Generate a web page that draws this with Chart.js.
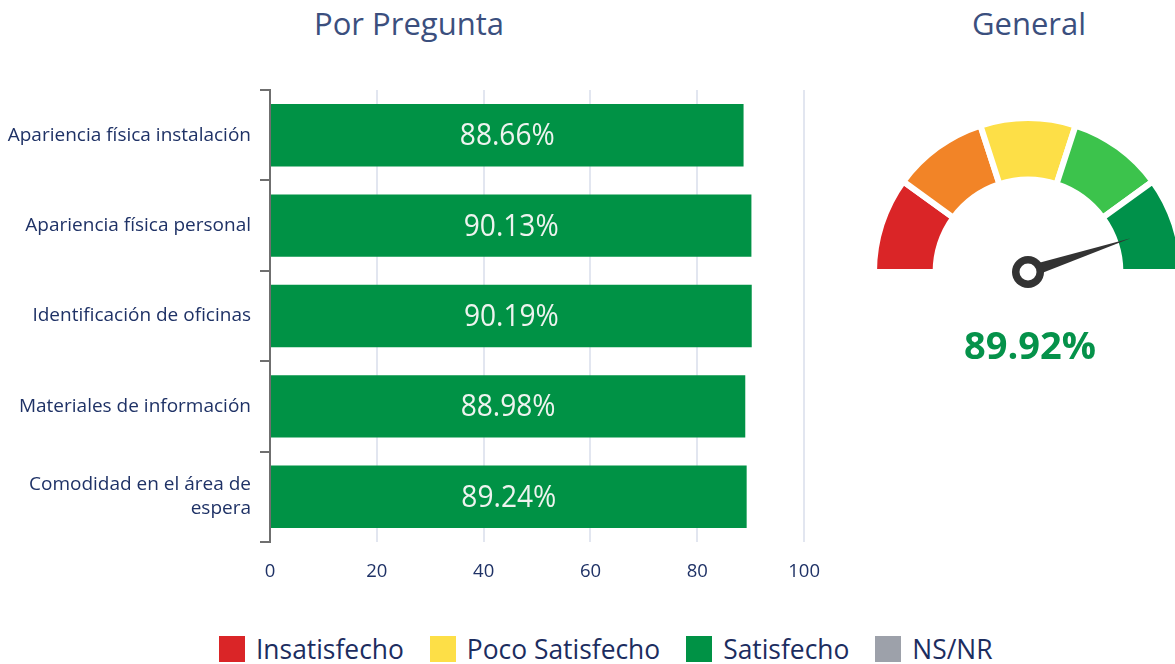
<!DOCTYPE html>
<html>
<head>
<meta charset="utf-8">
<script src="https://cdn.jsdelivr.net/npm/chart.js@4/dist/chart.umd.min.js"></script>
<style>
html,body{margin:0;padding:0;background:#fff;}
body{width:1175px;height:664px;overflow:hidden;position:relative;font-family:"Open Sans",sans-serif;}
.titulo{position:absolute;top:2px;font-size:31px;color:#3b4f7e;text-align:center;line-height:42px;}
#barWrap{position:absolute;left:0;top:0;width:839px;height:600px;}
#gaugeWrap{position:absolute;left:858px;top:0;width:340px;height:400px;}
#leyenda{position:absolute;left:219px;top:636px;display:flex;align-items:center;font-size:26.4px;color:#1c2d5f;line-height:26px;white-space:nowrap;}
#leyenda .item{display:flex;align-items:center;margin-right:26px;}
#leyenda .caja{width:26px;height:26px;margin-right:11px;}
</style>
</head>
<body>
<div class="titulo" style="left:259px;width:300px;">Por Pregunta</div>
<div class="titulo" style="left:879px;width:300px;">General</div>
<div id="barWrap"><canvas id="barChart" width="839" height="600"></canvas></div>
<div id="gaugeWrap"><canvas id="gaugeChart" width="340" height="400"></canvas></div>
<div id="leyenda"></div>
<script>
const preguntas = [
"Apariencia física instalación",
"Apariencia física personal",
"Identificación de oficinas",
"Materiales de información",
["Comodidad en el área de","espera"]
];
const porcentajes = [88.66, 90.13, 90.19, 88.98, 89.24];
const xTicks = [0, 20, 40, 60, 80, 100];

const rangos = [20, 20, 20, 20, 20];
const rangoColores = ["#da2527", "#f28427", "#fddf47", "#3cc34c", "#00914a"];
const general = 89.92;

const leyenda = ["Insatisfecho", "Poco Satisfecho", "Satisfecho", "NS/NR"];
const leyendaColores = ["#da2527", "#fddf47", "#009245", "#9da1aa"];

const navy = "#1f3266";
Chart.defaults.font.family = "'Open Sans', sans-serif";

// porcentajes dentro de cada barra
const barLabels = {
id:"barLabels",
afterDatasetsDraw(chart){
const ctx = chart.ctx;
const meta = chart.getDatasetMeta(0);
ctx.save();
ctx.fillStyle = "#eef3ef";
ctx.font = "29px 'Open Sans'";
ctx.textAlign = "center";
ctx.textBaseline = "middle";
meta.data.forEach((bar,i)=>{
const x = (bar.x + bar.base) / 2;
ctx.save();
ctx.translate(x, bar.y + 1);
ctx.scale(0.97, 1.08);
ctx.fillText(porcentajes[i].toFixed(2) + "%", 0, 0);
ctx.restore();
});
ctx.restore();
}
};

new Chart(document.getElementById("barChart"),{
type:"bar",
data:{
labels:preguntas,
datasets:[{
data:porcentajes,
backgroundColor:"#009245",
barPercentage:0.69,
categoryPercentage:1
}]
},
options:{
indexAxis:"y",
responsive:false,
animation:false,
layout:{padding:{top:90,right:0,bottom:0,left:0}},
plugins:{legend:{display:false},tooltip:{enabled:false}},
scales:{
x:{
min:0,
max:100,
afterBuildTicks:s=>{ s.ticks = xTicks.map(v=>({value:v})); },
afterFit:s=>{ s.height = 58; },
grid:{
color:c=>(c.tick && c.tick.value === 0) ? "rgba(0,0,0,0)" : "#e2e6f0",
lineWidth:2,
drawTicks:false
},
border:{display:false},
ticks:{color:navy,font:{size:18.5},padding:19}
},
y:{
afterFit:s=>{ s.width = 270; },
grid:{drawOnChartArea:false,color:"#6f6f6f",lineWidth:2,tickLength:10,offset:true},
border:{display:true,color:"#6f6f6f",width:2},
ticks:{color:navy,font:{size:19,lineHeight:1.27},padding:9}
}
}
},
plugins:[barLabels]
});

// aguja y valor general
const gaugeNeedle = {
id:"gaugeNeedle",
afterDatasetsDraw(chart){
const ctx = chart.ctx;
const arc = chart.getDatasetMeta(0).data[0];
const cx = arc.x, cy = arc.y;
const ang = Math.PI + Math.PI * general / 100;
const len = 108;
ctx.save();
ctx.fillStyle = "#333333";
ctx.beginPath();
ctx.moveTo(cx + Math.cos(ang) * len, cy + Math.sin(ang) * len);
ctx.lineTo(cx + Math.cos(ang + Math.PI/2) * 6, cy + Math.sin(ang + Math.PI/2) * 6);
ctx.lineTo(cx + Math.cos(ang - Math.PI/2) * 6, cy + Math.sin(ang - Math.PI/2) * 6);
ctx.closePath();
ctx.fill();
ctx.beginPath();
ctx.arc(cx, cy, 16, 0, Math.PI*2);
ctx.fill();
ctx.fillStyle = "#ffffff";
ctx.beginPath();
ctx.arc(cx, cy, 8.5, 0, Math.PI*2);
ctx.fill();
ctx.fillStyle = "#05924a";
ctx.font = "bold 38px 'Open Sans'";
ctx.textAlign = "center";
ctx.textBaseline = "middle";
ctx.fillText(general.toFixed(2) + "%", cx + 2, cy + 76);
ctx.restore();
}
};

new Chart(document.getElementById("gaugeChart"),{
type:"doughnut",
data:{
labels:["1","2","3","4","5"],
datasets:[{
data:rangos,
backgroundColor:rangoColores,
borderColor:"#ffffff",
borderWidth:6,
radius:154,
cutout:"60%"
}]
},
options:{
responsive:false,
animation:false,
rotation:-90,
circumference:180,
layout:{padding:{top:120,bottom:130,left:0,right:0}},
plugins:{legend:{display:false},tooltip:{enabled:false}}
},
plugins:[gaugeNeedle]
});

const ley = document.getElementById("leyenda");
leyenda.forEach((txt,i)=>{
const item = document.createElement("div");
item.className = "item";
const caja = document.createElement("div");
caja.className = "caja";
caja.style.background = leyendaColores[i];
const span = document.createElement("span");
span.innerText = txt;
item.appendChild(caja);
item.appendChild(span);
ley.appendChild(item);
});
</script>
</body>
</html>
